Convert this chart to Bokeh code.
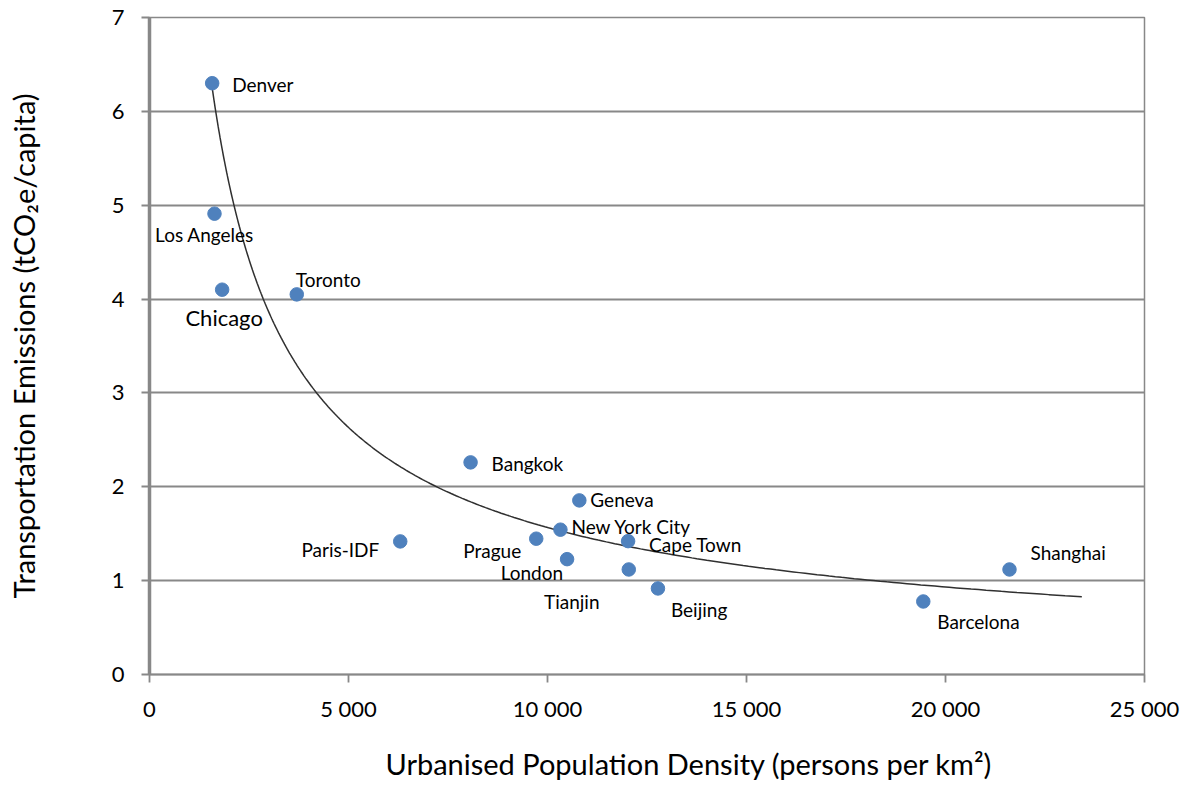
import numpy as np
from bokeh.plotting import figure
from bokeh.models import ColumnDataSource, Title
from bokeh.core.properties import value
from bokeh.embed import file_html
from bokeh.resources import INLINE

# City data: urbanised density (persons per km2) vs transport emissions (tCO2e/capita)
cities = ["Denver", "Los Angeles", "Chicago", "Toronto", "Bangkok", "Geneva",
          "New York City", "Prague", "Paris-IDF", "Cape Town", "London",
          "Tianjin", "Beijing", "Barcelona", "Shanghai"]
density = [1575, 1633, 1825, 3700, 8067, 10800, 10325, 9717, 6300, 12025,
           10492, 12042, 12775, 19442, 21608]
emissions = [6.30, 4.91, 4.10, 4.05, 2.26, 1.855, 1.543, 1.447, 1.418, 1.421,
             1.229, 1.119, 0.917, 0.778, 1.119]

# Power-law trend line y = A * x^B over its plotted span
TREND_A = 1548.0
TREND_B = -0.7487
TREND_START = 1575
TREND_END = 23425

x_ticks = [0, 5000, 10000, 15000, 20000, 25000]
x_tick_labels = ["0", "5 000", "10 000", "15 000", "20 000", "25 000"]
y_ticks = [0, 1, 2, 3, 4, 5, 6, 7]

X_TITLE = "Urbanised Population Density (persons per km\u00b2)"
Y_TITLE = "Transportation Emissions (tCO\u2082e/capita)"

# Label placement (screen-pixel offsets from each point) and styling
label_dx = [20, -10, 2, -1, 21, 11, 11, -15, -21, 21, -4, -57, 13, 14, 21]
label_dy = [1.5, 21, 28, -15, 1, -1, -3, 12, 8, 3, 13.5, 32, 21, 20, -17]
label_align = ["left", "center", "center", "left", "left", "left", "left",
               "right", "right", "left", "right", "center", "left", "left", "left"]
label_size = ["19px"] * len(cities)
label_size[2] = "22px"

FONT = "Lato"
GRAY = "#888888"

p = figure(frame_width=995, frame_height=657,
           min_border_left=149, min_border_right=45,
           min_border_top=17, min_border_bottom=112,
           x_range=(0, 25000), y_range=(0, 7),
           output_backend="svg", toolbar_location=None,
           background_fill_color="white", border_fill_color="white")

p.outline_line_color = GRAY
p.outline_line_width = 1.5

p.xgrid.visible = False
p.ygrid.ticker = y_ticks
p.ygrid.grid_line_color = GRAY
p.ygrid.grid_line_width = 1.8

p.xaxis.ticker = x_ticks
p.xaxis.major_label_overrides = {t: s for t, s in zip(x_ticks, x_tick_labels)}
p.yaxis.ticker = y_ticks

for ax in (p.xaxis, p.yaxis):
    ax.axis_line_color = GRAY
    ax.major_tick_line_color = GRAY
    ax.major_tick_line_width = 1.8
    ax.major_tick_out = 8
    ax.major_tick_in = 0
    ax.minor_tick_line_color = None
    ax.major_label_text_font = FONT
    ax.major_label_text_font_size = "22px"
    ax.major_label_text_color = "black"
    ax.axis_label_text_font = FONT
    ax.axis_label_text_font_size = "29px"
    ax.axis_label_text_font_style = "normal"
    ax.axis_label_text_color = "black"

p.yaxis.axis_line_width = 3.5
p.xaxis.axis_line_width = 2
p.yaxis.axis_label = Y_TITLE
p.xaxis.major_label_standoff = 12
p.yaxis.major_label_standoff = 17
p.yaxis.axis_label_standoff = 68

# x-axis title, placed as a title panel below the axis, a little right of centre
p.add_layout(Title(text=X_TITLE, align="left", offset=236, standoff=38,
                   text_font=FONT, text_font_size="29px",
                   text_font_style="normal", text_color="black"), "below")

# Trend line
tx = np.geomspace(TREND_START, TREND_END, 300)
ty = TREND_A * tx ** TREND_B
p.line(tx, ty, line_color="#303030", line_width=1.5)

src = ColumnDataSource(dict(x=density, y=emissions, name=cities,
                            dx=label_dx, dy=label_dy, align=label_align,
                            size=label_size))

p.scatter("x", "y", source=src, size=13.5, fill_color="#4F81BD",
          line_color="#4F81BD")

p.text("x", "y", text="name", source=src, x_offset="dx", y_offset="dy",
       text_align="align", text_baseline="middle", text_font=value(FONT),
       text_font_size="size", text_color="black")

open("out.html", "w").write(file_html(p, INLINE))
